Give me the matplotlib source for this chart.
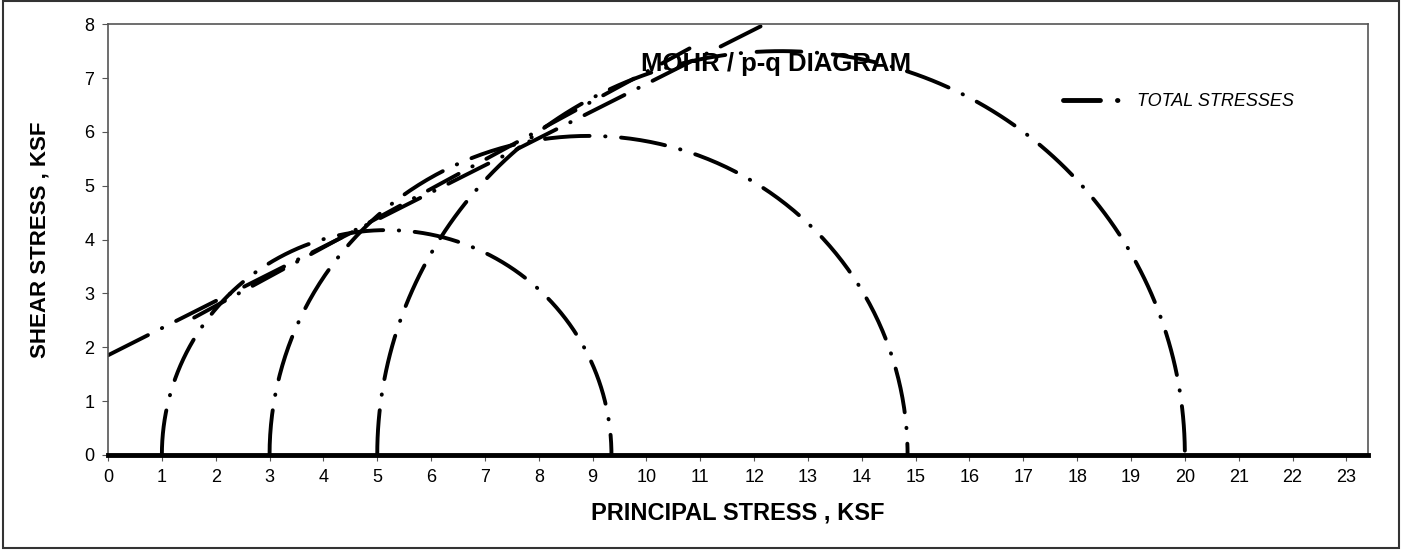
import numpy as np
import matplotlib
matplotlib.use("Agg")
import matplotlib.pyplot as plt
from matplotlib.lines import Line2D
from matplotlib.patches import Rectangle

plt.rcParams['font.family'] = ['Liberation Sans', 'DejaVu Sans']

# minor / major principal stresses of the three Mohr circles (ksf)
sigma3 = [1.0, 3.0, 5.0]
sigma1 = [9.35, 14.85, 20.0]

# failure envelope and the second (p-q) line
env_x = [0.0, 12.2]
env_y = [1.85, 8.0]
pq_x = [1.6, 10.8]
pq_y = [2.55, 7.55]

x_ticks = list(range(0, 24))
y_ticks = list(range(0, 9))

fig = plt.figure(figsize=(14.03, 5.5), dpi=100)
ax = fig.add_axes([0.077, 0.173, 0.898, 0.783])

style = dict(color='black', lw=2.8, dashes=(11.5, 4, 0.1, 4),
             dash_capstyle='round')

# semicircles
for s3, s1 in zip(sigma3, sigma1):
    c = (s1 + s3) / 2.0
    r = (s1 - s3) / 2.0
    t = np.linspace(np.pi, 0, 300)
    ax.plot(c + r * np.cos(t), r * np.sin(t), **style)

ax.plot(env_x, env_y, **style)
ax.plot(pq_x, pq_y, color='black', lw=2.8, dashes=(9, 4, 0.1, 4),
        dash_capstyle='round')

ax.set_xlim(0, 23.4)
ax.set_ylim(0, 8)
ax.set_xticks(x_ticks)
ax.set_yticks(y_ticks)
ax.tick_params(labelsize=13, length=4, color='#555555', pad=6)

for s in ['top', 'right', 'left']:
    ax.spines[s].set_color('#555555')
    ax.spines[s].set_linewidth(1.2)
ax.spines['bottom'].set_color('black')
ax.spines['bottom'].set_linewidth(3.5)

ax.set_xlabel('PRINCIPAL STRESS , KSF', fontsize=17, fontweight='bold', labelpad=11)
ax.set_ylabel('SHEAR STRESS , KSF', fontsize=16, fontweight='bold', labelpad=24)

ax.text(0.53, 0.907, 'MOHR / p-q DIAGRAM', transform=ax.transAxes,
        ha='center', va='center', fontsize=18.5, fontweight='bold')

handle = Line2D([], [], color='black', lw=3.5, dashes=(7.6, 3.5, 0.1, 10),
                dash_capstyle='round')
ax.legend([handle], ['TOTAL STRESSES'], loc='center left',
          bbox_to_anchor=(0.745, 0.82), frameon=False,
          prop={'style': 'italic', 'size': 13}, handlelength=3.3,
          handletextpad=0.8)

# outer chart border
fig.patches.append(Rectangle((0.002, 0.004), 0.995, 0.994, transform=fig.transFigure,
                             fill=False, edgecolor='#333333', lw=1.5))

fig.savefig('out.png', dpi=100)
